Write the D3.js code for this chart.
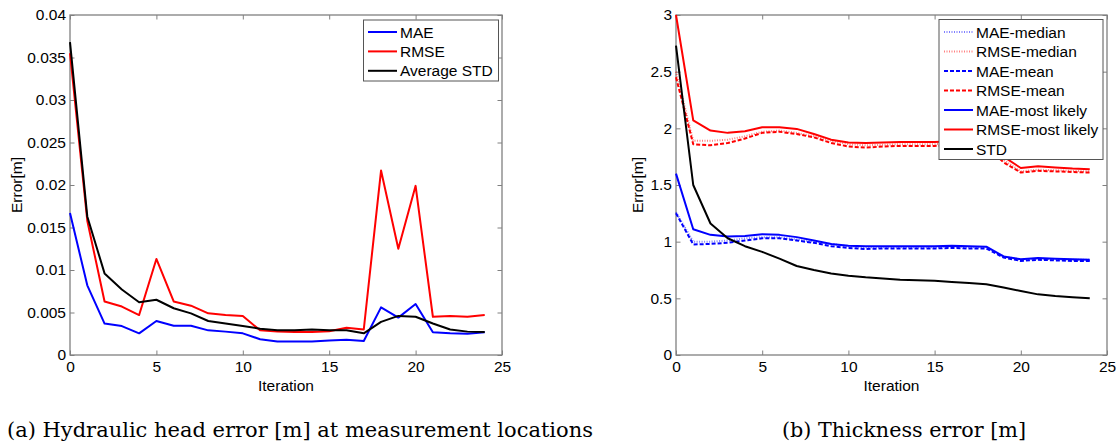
<!DOCTYPE html>
<html><head><meta charset="utf-8">
<script src="https://cdn.jsdelivr.net/npm/d3@7"></script>
<style>body{margin:0;background:#fff}svg{display:block}</style>
</head><body>
<script>
const iterations = [0,1,2,3,4,5,6,7,8,9,10,11,12,13,14,15,16,17,18,19,20,21,22,23,24];

// Panel (a): hydraulic head error
const headMAE  = [0.0167,0.0082,0.0037,0.0034,0.00255,0.0040,0.00345,0.00345,0.0029,0.00275,0.00255,0.00185,0.0016,0.0016,0.0016,0.0017,0.0018,0.00165,0.0056,0.0044,0.0060,0.00267,0.00255,0.0025,0.00267];
const headRMSE = [0.0355,0.0158,0.0063,0.0057,0.0047,0.0113,0.0063,0.0058,0.0049,0.0047,0.0046,0.0029,0.00275,0.0027,0.0027,0.0028,0.0032,0.0030,0.0217,0.0125,0.0199,0.0045,0.0046,0.0045,0.0047];
const headSTD  = [0.0368,0.0163,0.0096,0.0077,0.0062,0.0065,0.0055,0.0049,0.0040,0.0037,0.0034,0.0031,0.0029,0.0029,0.0030,0.0029,0.0029,0.00255,0.0039,0.0046,0.0045,0.0037,0.0030,0.00275,0.0027];

// Panel (b): thickness error
const thkMAEmed   = [1.26,1.00,1.00,1.01,1.03,1.04,1.04,1.02,1.00,0.98,0.96,0.95,0.95,0.95,0.95,0.95,0.955,0.95,0.95,0.87,0.84,0.85,0.845,0.84,0.84];
const thkRMSEmed  = [2.50,1.89,1.89,1.90,1.93,1.97,1.98,1.96,1.93,1.89,1.86,1.85,1.855,1.86,1.86,1.86,1.865,1.86,1.85,1.72,1.62,1.635,1.63,1.625,1.62];
const thkMAEmean  = [1.25,0.975,0.98,0.99,1.01,1.03,1.03,1.01,0.99,0.96,0.945,0.935,0.94,0.94,0.94,0.94,0.945,0.94,0.94,0.86,0.83,0.84,0.835,0.83,0.83];
const thkRMSEmean = [2.45,1.86,1.85,1.87,1.91,1.96,1.97,1.95,1.92,1.87,1.84,1.83,1.84,1.845,1.845,1.845,1.85,1.845,1.84,1.70,1.61,1.625,1.62,1.615,1.61];
const thkMAEml    = [1.60,1.11,1.06,1.045,1.05,1.065,1.06,1.04,1.01,0.98,0.965,0.96,0.96,0.96,0.96,0.96,0.965,0.96,0.956,0.87,0.845,0.855,0.85,0.845,0.84];
const thkRMSEml   = [3.00,2.07,1.98,1.96,1.975,2.01,2.01,1.995,1.95,1.90,1.875,1.87,1.875,1.88,1.88,1.88,1.885,1.88,1.875,1.75,1.65,1.665,1.655,1.645,1.64];
const thkSTD      = [2.73,1.50,1.16,1.03,0.96,0.91,0.85,0.785,0.75,0.72,0.70,0.685,0.675,0.665,0.66,0.655,0.645,0.635,0.625,0.595,0.565,0.535,0.52,0.51,0.50];

const xTicks = [0,5,10,15,20,25];
const headYTicks = [0,0.005,0.01,0.015,0.02,0.025,0.03,0.035,0.04];
const thkYTicks = [0,0.5,1,1.5,2,2.5,3];

const headSeries = [
  {name:"MAE", values:headMAE, color:"#0000ff", dash:null, op:1},
  {name:"RMSE", values:headRMSE, color:"#ff0000", dash:null, op:1},
  {name:"Average STD", values:headSTD, color:"#000000", dash:null, op:1}
];
const thkSeries = [
  {name:"MAE-median", values:thkMAEmed, color:"#0000ff", dash:"1,1.5", op:0.5},
  {name:"RMSE-median", values:thkRMSEmed, color:"#ff0000", dash:"1,1.5", op:0.5},
  {name:"MAE-mean", values:thkMAEmean, color:"#0000ff", dash:"4,2", op:1},
  {name:"RMSE-mean", values:thkRMSEmean, color:"#ff0000", dash:"4,2", op:1},
  {name:"MAE-most likely", values:thkMAEml, color:"#0000ff", dash:null, op:1},
  {name:"RMSE-most likely", values:thkRMSEml, color:"#ff0000", dash:null, op:1},
  {name:"STD", values:thkSTD, color:"#000000", dash:null, op:1}
];

const W = 1117, H = 444;
const svg = d3.select("body").append("svg").attr("width", W).attr("height", H);
const FONT = "Liberation Sans, Arial, sans-serif";
const AX = "#808080";

function panel(opt) {
  const {x0, x1, y0, y1, yDomain, yTicks, yFmt, series, legend, ylabX, caption, capX, capW} = opt;
  const x = d3.scaleLinear().domain([0,25]).range([x0,x1]);
  const y = d3.scaleLinear().domain(yDomain).range([y1,y0]);
  const g = svg.append("g");
  const tl = 4.5;
  const axB = d3.axisBottom(x).tickValues(xTicks).tickSize(-tl).tickPadding(6).tickFormat(d3.format("d"));
  const axT = d3.axisTop(x).tickValues(xTicks).tickSize(-tl).tickFormat("");
  const axL = d3.axisLeft(y).tickValues(yTicks).tickSize(-tl).tickPadding(4).tickFormat(yFmt);
  const axR = d3.axisRight(y).tickValues(yTicks).tickSize(-tl).tickFormat("");
  const styleAx = sel => {
    sel.select(".domain").attr("stroke", AX).attr("stroke-width", 1.3);
    sel.selectAll(".tick line").attr("stroke", AX).attr("stroke-width", 1);
    sel.selectAll(".tick text").attr("fill", "#000").style("font-family", FONT).style("font-size", "15.5px");
  };
  g.append("g").attr("transform", `translate(0,${y1})`).call(axB).call(styleAx);
  g.append("g").attr("transform", `translate(0,${y0})`).call(axT).call(styleAx);
  g.append("g").attr("transform", `translate(${x0},0)`).call(axL).call(styleAx);
  g.append("g").attr("transform", `translate(${x1},0)`).call(axR).call(styleAx);
  g.selectAll(".domain").attr("d", null);
  g.append("rect").attr("x", x0).attr("y", y0).attr("width", x1-x0).attr("height", y1-y0)
    .attr("fill", "none").attr("stroke", AX).attr("stroke-width", 1.3);

  const line = d3.line().x((d,i)=>x(iterations[i])).y(d=>y(d));
  series.forEach(s => {
    g.append("path").datum(s.values).attr("d", line).attr("fill","none")
      .attr("stroke", s.color).attr("stroke-width", 2).attr("stroke-opacity", s.op)
      .attr("stroke-dasharray", s.dash).attr("stroke-linejoin","round");
  });

  g.append("text").attr("x", (x0+x1)/2).attr("y", 391).attr("text-anchor","middle")
    .style("font-family", FONT).style("font-size","15.5px").text("Iteration");
  g.append("text").attr("transform", `translate(${ylabX},${(y0+y1)/2}) rotate(-90)`)
    .attr("text-anchor","middle").style("font-family", FONT).style("font-size","15.5px").text("Error[m]");

  const L = legend;
  g.append("rect").attr("x", L.x).attr("y", L.y).attr("width", L.w).attr("height", L.h)
    .attr("fill","#fff").attr("stroke", "#555").attr("stroke-width", 1);
  series.forEach((s,i) => {
    const cy = L.row0 + i*L.step;
    g.append("line").attr("x1", L.lx0).attr("x2", L.lx1).attr("y1", cy).attr("y2", cy)
      .attr("stroke", s.color).attr("stroke-width", 2).attr("stroke-opacity", s.op)
      .attr("stroke-dasharray", s.dash);
    g.append("text").attr("x", L.tx).attr("y", cy + 5.5)
      .style("font-family", FONT).style("font-size","15.5px").text(s.name);
  });

  svg.append("text").attr("x", capX).attr("y", 437)
    .attr("textLength", capW).attr("lengthAdjust", "spacingAndGlyphs")
    .style("font-family","DejaVu Serif, Liberation Serif, serif").style("font-size","20.5px").text(caption);
}

panel({x0:70, x1:502, y0:15, y1:355, yDomain:[0,0.04], yTicks:headYTicks,
  yFmt: d => d===0 ? "0" : String(+d.toFixed(3)), series: headSeries, ylabX: 22,
  legend:{x:363.5, y:20, w:135, h:61, row0:32, step:19.4, lx0:368, lx1:397, tx:400},
  caption:"(a) Hydraulic head error [m] at measurement locations", capX:7, capW:586});

panel({x0:676, x1:1107, y0:15, y1:355, yDomain:[0,3], yTicks:thkYTicks,
  yFmt: d => String(d), series: thkSeries, ylabX: 643,
  legend:{x:939, y:19.5, w:164, h:140, row0:32, step:19.5, lx0:944, lx1:973, tx:976},
  caption:"(b) Thickness error [m]", capX:782, capW:244});
</script>
</body></html>
